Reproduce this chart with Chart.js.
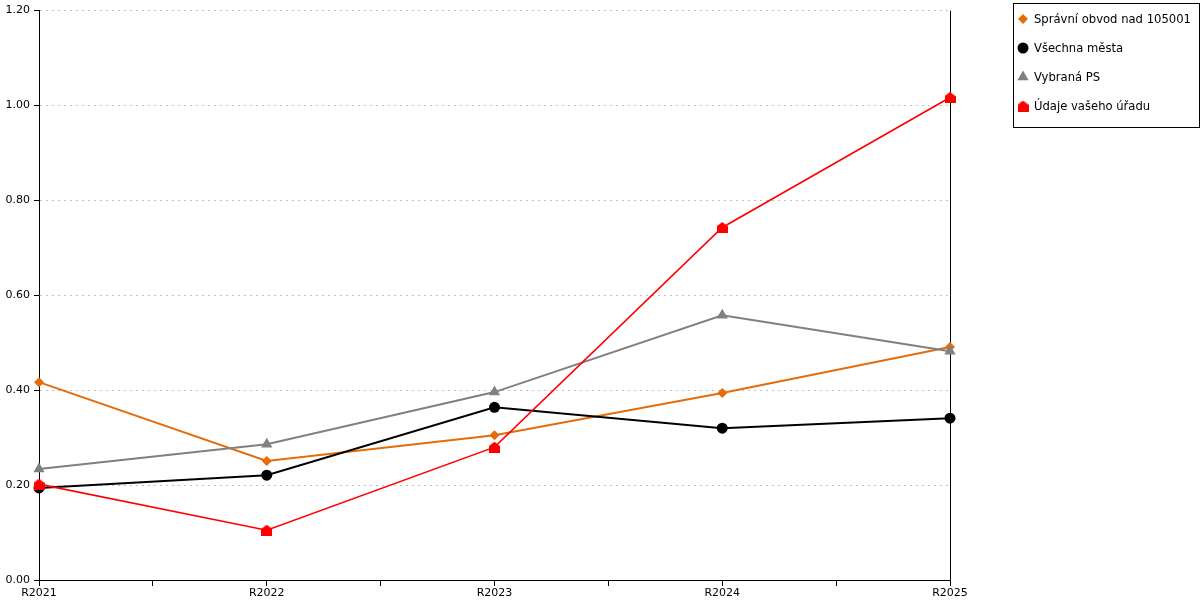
<!DOCTYPE html>
<html>
<head>
<meta charset="utf-8">
<script src="https://cdn.jsdelivr.net/npm/chart.js@4/dist/chart.umd.min.js"></script>
<style>
html,body{margin:0;padding:0;background:#fff;}
#wrap{width:1200px;height:600px;position:relative;}
</style>
</head>
<body>
<div id="wrap"><canvas id="c" width="1200" height="600"></canvas></div>
<script>
const categories = ['R2021', 'R2022', 'R2023', 'R2024', 'R2025'];
const seriesNames = ['Správní obvod nad 105001', 'Všechna města', 'Vybraná PS', 'Údaje vašeho úřadu'];
const spravniObvod = [0.417, 0.251, 0.305, 0.394, 0.491];
const vsechnaMesta = [0.194, 0.221, 0.364, 0.320, 0.341];
const vybranaPS = [0.234, 0.286, 0.396, 0.558, 0.482];
const udajeUradu = [0.202, 0.105, 0.280, 0.743, 1.017];
const yTicks = [0, 0.2, 0.4, 0.6, 0.8, 1.0, 1.2];

const FONT = 'DejaVu Sans, Verdana, sans-serif';

function houseCanvas(color, w, h) {
  const c = document.createElement('canvas');
  c.width = w; c.height = h;
  const g = c.getContext('2d');
  g.fillStyle = color;
  g.beginPath();
  g.moveTo(0, h * 0.38);
  g.lineTo(w / 2, 0);
  g.lineTo(w, h * 0.38);
  g.lineTo(w, h);
  g.lineTo(0, h);
  g.closePath();
  g.fill();
  return c;
}
const house = houseCanvas('#ff0000', 11, 11);

function toXY(arr) { return arr.map((v, i) => ({x: i, y: v})); }

const styles = [
  {color: '#e46c0a', point: 'rectRot', r: 5, order: 3, width: 2},
  {color: '#000000', point: 'circle', r: 5.5, order: 2, width: 2},
  {color: '#808080', point: 'triangle', r: 6.5, order: 1, width: 2},
  {color: '#ff0000', point: house, r: 6, order: 0, width: 1.6}
];
const values = [spravniObvod, vsechnaMesta, vybranaPS, udajeUradu];

const datasets = values.map((vals, i) => ({
  label: seriesNames[i],
  data: toXY(vals),
  borderColor: styles[i].color,
  backgroundColor: styles[i].color,
  borderWidth: styles[i].width,
  pointStyle: styles[i].point,
  pointRadius: styles[i].r,
  pointHoverRadius: styles[i].r,
  pointBorderWidth: 0,
  pointBackgroundColor: styles[i].color,
  pointBorderColor: styles[i].color,
  order: styles[i].order,
  clip: false,
  tension: 0,
  fill: false
}));

const legendPlugin = {
  id: 'boxLegend',
  afterDraw(chart) {
    const ctx = chart.ctx;
    const x0 = 1013.5, y0 = 3.5, w = 186, h = 124;
    ctx.save();
    ctx.fillStyle = '#fff';
    ctx.fillRect(x0, y0, w, h);
    ctx.strokeStyle = '#000';
    ctx.lineWidth = 1;
    ctx.strokeRect(x0, y0, w, h);
    ctx.font = '11.6px ' + FONT;
    ctx.textBaseline = 'middle';
    ctx.fillStyle = '#000';
    chart.data.datasets.forEach((ds, i) => {
      const cy = 19 + i * 29;
      const cx = 1023;
      ctx.fillStyle = ds.pointBackgroundColor;
      Chart.helpers.drawPoint(ctx, {pointStyle: ds.pointStyle, radius: ds.pointRadius, borderWidth: 0, rotation: 0}, cx, cy);
      ctx.fillStyle = '#000';
      ctx.fillText(ds.label, 1034, cy + 1);
    });
    ctx.restore();
  }
};

new Chart(document.getElementById('c'), {
  type: 'line',
  data: {datasets},
  options: {
    responsive: false,
    animation: false,
    devicePixelRatio: 1,
    layout: {padding: {top: 10, right: 250, left: 0, bottom: 0}},
    plugins: {legend: {display: false}, tooltip: {enabled: false}},
    scales: {
      x: {
        type: 'linear',
        min: 0, max: categories.length - 1,
        afterBuildTicks(scale) {
          const t = [];
          for (let v = 0; v <= categories.length - 1; v += 0.5) t.push({value: v});
          scale.ticks = t;
        },
        afterFit(scale) { scale.height = 20; },
        ticks: {
          autoSkip: false, maxRotation: 0, padding: 1,
          color: '#000', font: {family: FONT, size: 11},
          callback: (v) => Number.isInteger(v) ? categories[v] : ''
        },
        grid: {
          drawOnChartArea: true,
          color: (c) => (c.tick && c.tick.value === categories.length - 1) ? '#000' : 'rgba(0,0,0,0)',
          tickColor: '#000', tickLength: 6, lineWidth: 1
        },
        border: {color: '#000', width: 1}
      },
      y: {
        min: 0, max: 1.2,
        afterBuildTicks(scale) { scale.ticks = yTicks.map(v => ({value: v})); },
        afterFit(scale) { scale.width = 39; },
        ticks: {
          padding: 4, color: '#000', font: {family: FONT, size: 11},
          callback: (v) => Number(v).toFixed(2)
        },
        grid: {color: '#c0c0c0', tickColor: '#000', tickLength: 5, lineWidth: 1},
        border: {color: '#000', width: 1, dash: [2, 4]}
      }
    }
  },
  plugins: [legendPlugin]
});
</script>
</body>
</html>
